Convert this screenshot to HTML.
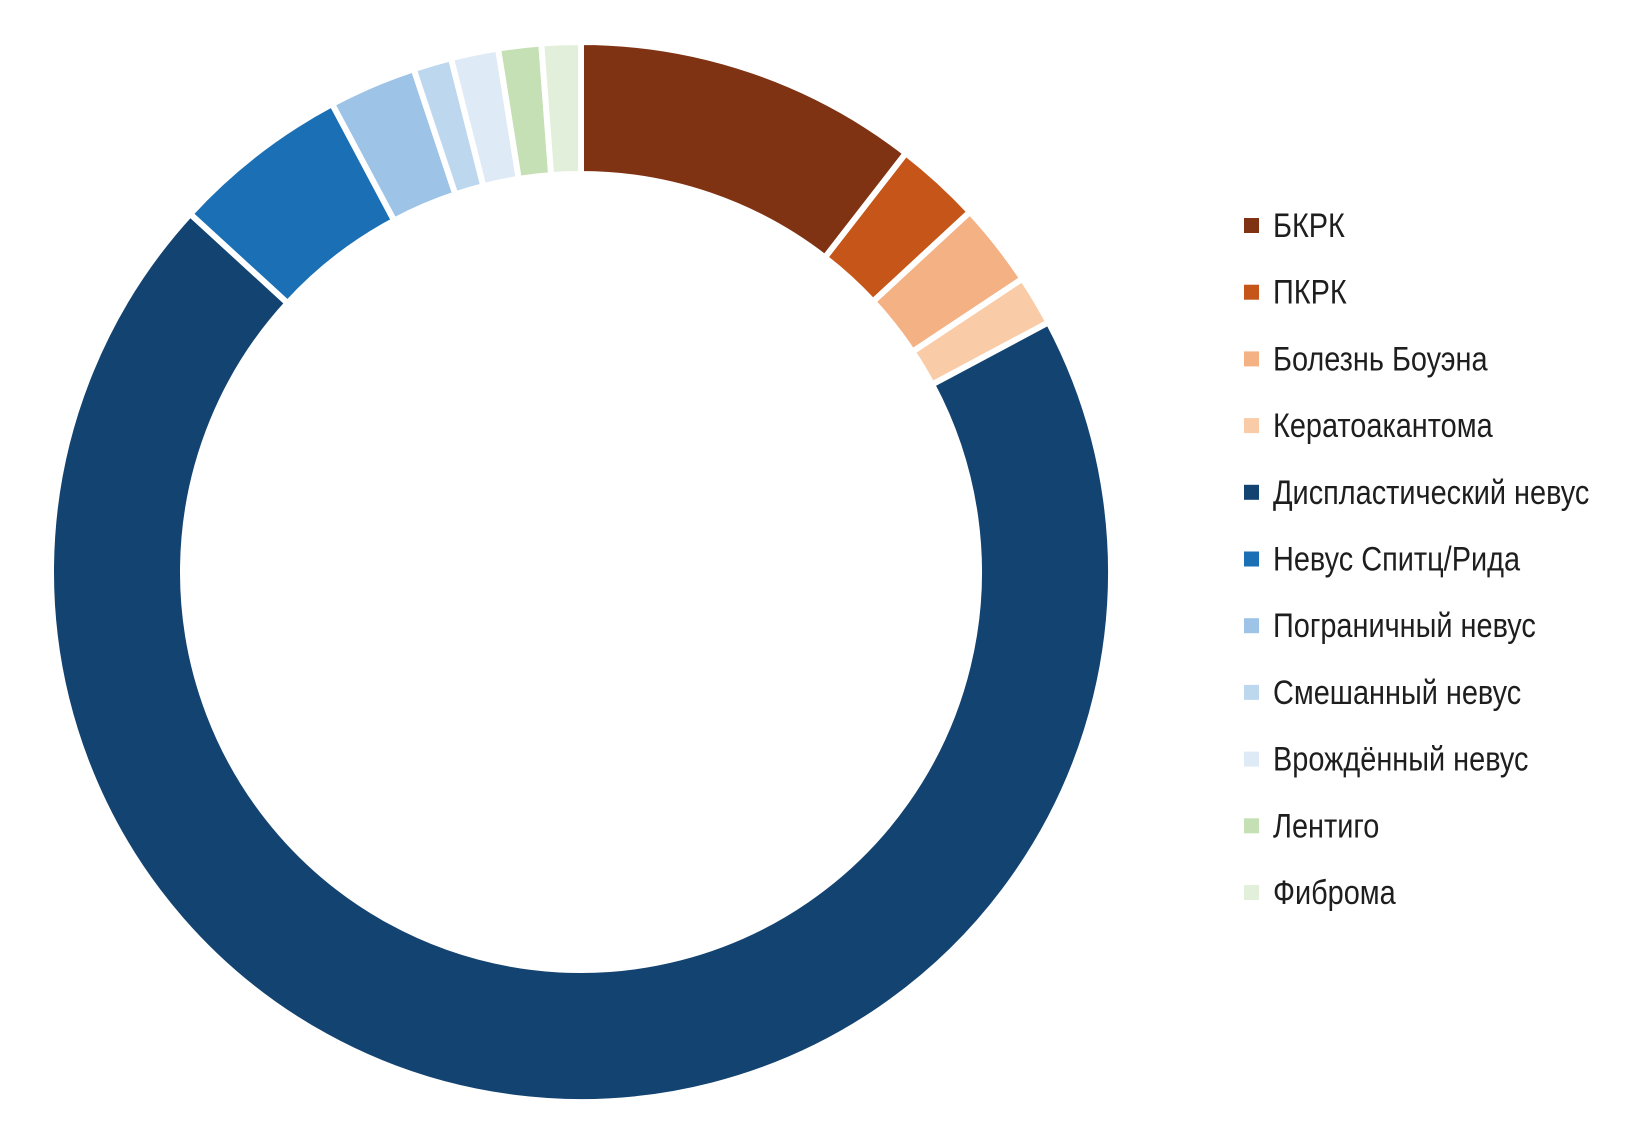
<!DOCTYPE html>
<html><head><meta charset="utf-8"><style>
html,body{margin:0;padding:0;background:#fff;width:1635px;height:1145px;overflow:hidden}
</style></head><body>
<svg id="s" width="1635" height="1145" xmlns="http://www.w3.org/2000/svg">
<g id="d"></g>
<g font-family="'Liberation Sans Narrow','Liberation Sans',sans-serif" font-size="34" fill="#1e1e1e" font-weight="500" id="leg"></g>
</svg>
<script>
var cx=581,cy=572,R=530,r=398;
var segs=[[0,37.8,"#7f3313"],[37.8,47.2,"#c55518"],[47.2,56.4,"#f4b183"],[56.4,61.9,"#f9cba7"],[61.9,312.5,"#134370"],[312.5,332,"#1a6fb5"],[332,341.6,"#9dc3e6"],[341.6,345.8,"#bdd7ee"],[345.8,351,"#deebf7"],[351,355.7,"#c5e0b4"],[355.7,360,"#e2efda"]];
function p(a,rad){a=a*Math.PI/180;return [cx+rad*Math.sin(a),cy-rad*Math.cos(a)];}
var g=document.getElementById('d'),h='';
segs.forEach(function(s){var a=s[0],b=s[1],l=(b-a)>180?1:0;
var p1=p(a,R),p2=p(b,R),p3=p(b,r),p4=p(a,r);
h+='<path d="M'+p1+' A'+R+','+R+' 0 '+l+' 1 '+p2+' L'+p3+' A'+r+','+r+' 0 '+l+' 0 '+p4+' Z" fill="'+s[2]+'" stroke="#fff" stroke-width="6" stroke-linejoin="miter"/>';});
g.innerHTML=h;
var names=["БКРК","ПКРК","Болезнь Боуэна","Кератоакантома","Диспластический невус","Невус Спитц/Рида","Пограничный невус","Смешанный невус","Врождённый невус","Лентиго","Фиброма"];
var lh='';
names.forEach(function(n,i){var y=237+i*66.7;
lh+='<rect x="1244" y="'+(y-19)+'" width="15" height="15" fill="'+segs[i][2]+'"/>';
lh+='<text x="1273" y="'+y+'" transform="translate(1273 0) scale(0.85 1) translate(-1273 0)">'+n+'</text>';});
document.getElementById('leg').innerHTML=lh;
</script>
</body></html>
